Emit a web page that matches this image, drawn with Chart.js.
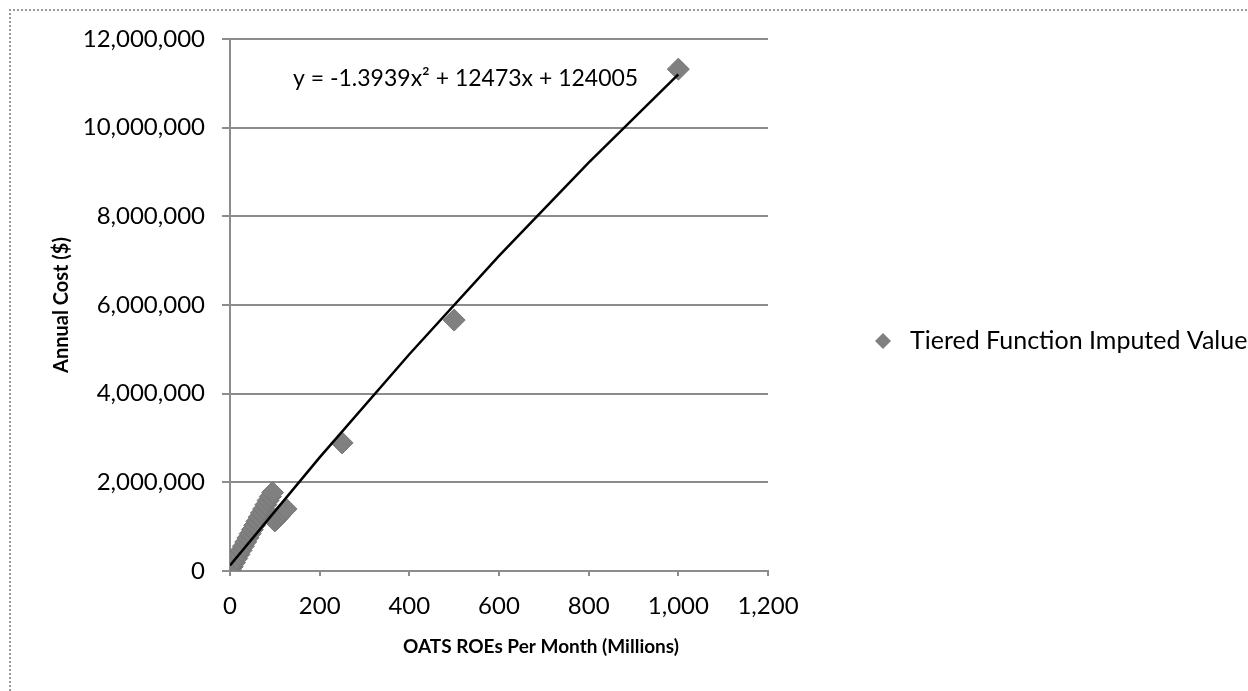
<!DOCTYPE html>
<html>
<head>
<meta charset="utf-8">
<script src="https://cdn.jsdelivr.net/npm/chart.js@4.4.1/dist/chart.umd.min.js"></script>
<style>
  html, body { margin: 0; padding: 0; background: #fff; }
  #wrap { width: 1248px; height: 691px; position: relative; }
</style>
</head>
<body>
<div id="wrap"><canvas id="cost_chart"></canvas></div>
<script>
    "use strict";
    // imputed values (ROEs in millions, cost in $)
    const roeMillions = [1, 5, 10, 15, 20, 25, 30, 35, 40, 45, 50, 55, 60, 65, 70, 75, 80, 85, 90, 95,
        100, 105, 110, 115, 120, 125, 250, 500, 1000];
    const annualCost = [20000, 95000, 188000, 282000, 375000, 468000, 560000, 655000, 748000, 842000,
        935000, 1030000, 1120000, 1215000, 1310000, 1400000, 1495000, 1590000, 1680000, 1770000,
        1130000, 1185000, 1240000, 1295000, 1350000, 1400000, 2890000, 5660000, 11320000];

    // polynomial trend line, points along it
    const trendX = [0, 200, 400, 600, 800, 1000];
    const trendY = [124000, 2563000, 4890000, 7106000, 9210000, 11203000];
    const trendLabel = "y = -1.3939x\u00B2 + 12473x + 124005";

    const xTicks = [0, 200, 400, 600, 800, 1000, 1200];
    const yTicks = [0, 2000000, 4000000, 6000000, 8000000, 10000000, 12000000];

    const seriesName = "Tiered Function Imputed Value";
    const xTitle = "OATS ROEs Per Month (Millions)";
    const FONT = "Lato";
    const markerGray = "#808080";

    const points = roeMillions.map((x, i) => ({ x: x, y: annualCost[i] }));
    const trend = trendX.map((x, i) => ({ x: x, y: trendY[i] }));

    const fmt = v => Number(v).toLocaleString("en-US");

    // frame, equation, x title and legend
    const extras = {
        id: "extras",
        beforeDraw(chart) {
            const c = chart.ctx;
            c.save();
            c.strokeStyle = "#9a9a9a";
            c.lineWidth = 2;
            c.setLineDash([2, 2]);
            c.beginPath();
            c.moveTo(10, 691);
            c.lineTo(10, 10);
            c.lineTo(1247, 10);
            c.stroke();
            c.restore();
        },
        afterDraw(chart) {
            const c = chart.ctx;
            c.save();
            c.fillStyle = "#000";
            c.textBaseline = "middle";
            c.textAlign = "left";
            c.font = "23px " + FONT;
            c.fillText(trendLabel, 293, 79);

            c.textAlign = "center";
            c.font = "bold 19px " + FONT;
            c.fillText(xTitle, 541, 647);

            // legend
            const lx = 883, ly = 341, r = 8;
            c.fillStyle = markerGray;
            c.beginPath();
            c.moveTo(lx, ly - r);
            c.lineTo(lx + r, ly);
            c.lineTo(lx, ly + r);
            c.lineTo(lx - r, ly);
            c.closePath();
            c.fill();
            c.fillStyle = "#000";
            c.textAlign = "left";
            c.font = "25px " + FONT;
            c.fillText(seriesName, 910, 341);
            c.restore();
        }
    };

    const ctx = document.getElementById("cost_chart").getContext("2d");

    new Chart(ctx, {
        type: "scatter",
        data: {
            datasets: [{
                label: "Trend",
                data: trend,
                showLine: true,
                borderColor: "#000",
                borderWidth: 2.5,
                pointRadius: 0,
                order: 1
            }, {
                label: seriesName,
                data: points,
                pointStyle: "rectRot",
                pointRadius: 11,
                backgroundColor: markerGray,
                borderColor: "#767676",
                borderWidth: 1,
                order: 2
            }]
        },
        options: {
            responsive: true,
            maintainAspectRatio: false,
            animation: false,
            layout: { padding: { left: 10, top: 39, right: 480, bottom: 0 } },
            plugins: {
                legend: { display: false },
                tooltip: { enabled: false }
            },
            scales: {
                x: {
                    type: "linear",
                    min: 0,
                    max: 1200,
                    afterBuildTicks: s => { s.ticks = xTicks.map(v => ({ value: v })); },
                    afterFit: s => { s.height = 691 - 571; },
                    grid: { display: true, drawOnChartArea: false, drawTicks: true, tickLength: 5, color: "#8c8c8c", lineWidth: 2 },
                    border: { color: "#8c8c8c", width: 2 },
                    ticks: { color: "#000", padding: 16, font: { family: FONT, size: 24 }, callback: fmt },
                    title: { display: false }
                },
                y: {
                    type: "linear",
                    min: 0,
                    max: 12000000,
                    afterBuildTicks: s => { s.ticks = yTicks.map(v => ({ value: v })); },
                    afterFit: s => { s.width = 220; },
                    grid: { color: "#8c8c8c", lineWidth: 2, tickLength: 8 },
                    border: { color: "#8c8c8c", width: 2 },
                    ticks: { color: "#000", padding: 17, font: { family: FONT, size: 24 }, callback: fmt },
                    title: {
                        display: true,
                        text: "Annual Cost ($)",
                        color: "#000",
                        font: { family: FONT, size: 20, weight: "bold" },
                        padding: { top: 40, bottom: 0 }
                    }
                }
            }
        },
        plugins: [extras]
    });
</script>
</body>
</html>
